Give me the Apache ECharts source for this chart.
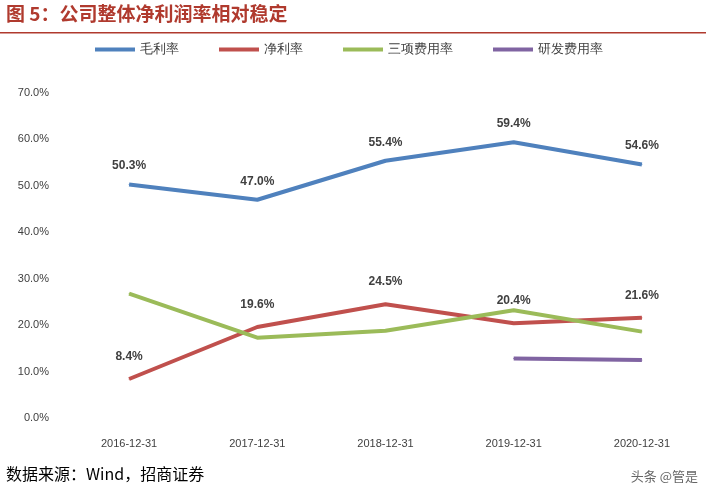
<!DOCTYPE html><html><head><meta charset="utf-8"><script src="https://cdn.jsdelivr.net/npm/echarts@6/dist/echarts.min.js"></script></head><body style="margin:0"><div id="c" style="width:706px;height:494px"></div><script>
const categories=['2016-12-31','2017-12-31','2018-12-31','2019-12-31','2020-12-31'];
const gross=[50.3,47.0,55.4,59.4,54.6];
const net=[8.4,19.6,24.5,20.4,21.6];
const expense=[26.8,17.3,18.8,23.2,18.6];
const rnd=[null,null,null,12.8,12.5];
const c=echarts.init(document.getElementById('c'));
const lbl={show:true,position:'top',distance:12,formatter:p=>p.value.toFixed(1)+'%',fontWeight:'bold',fontSize:12,color:'#404040'};
const base={type:'line',symbol:'circle',symbolSize:1,showSymbol:true};
c.setOption({
graphic:[{type:'text',left:6,top:4,style:{text:'图 5：公司整体净利润率相对稳定',fill:'#b03a2e',font:'bold 19px "Noto Sans CJK SC"'}},
{type:'rect',shape:{x:0,y:32,width:706,height:1.5},style:{fill:'#b03a2e'}},
{type:'text',left:6,top:466,style:{text:'数据来源：Wind，招商证券',fill:'#000',font:'16px "Noto Sans CJK SC"'}},
{type:'text',right:8,top:470,style:{text:'头条 @管是',fill:'#666',font:'13px "Noto Sans CJK SC"'}}],
legend:{top:38,left:90,itemGap:40,itemWidth:40,itemHeight:4,icon:'rect',textStyle:{fontSize:13,color:'#404040'}},
grid:{left:65,right:0,top:93,bottom:76},
xAxis:{type:'category',data:categories,axisTick:{show:false},axisLine:{show:false},axisLabel:{fontSize:11,color:'#404040',margin:20}},
yAxis:{type:'value',min:0,max:70,interval:10,splitLine:{show:false},axisLabel:{formatter:v=>v.toFixed(1)+'%',fontSize:11,color:'#404040',margin:16}},
series:[
Object.assign({},base,{name:'毛利率',data:gross,lineStyle:{width:4,color:'#4f81bd'},itemStyle:{color:'#4f81bd'},label:lbl}),
Object.assign({},base,{name:'净利率',data:net,lineStyle:{width:4,color:'#c0504d'},itemStyle:{color:'#c0504d'},label:Object.assign({},lbl,{distance:16})}),
Object.assign({},base,{name:'三项费用率',data:expense,lineStyle:{width:4,color:'#9bbb59'},itemStyle:{color:'#9bbb59'}}),
Object.assign({},base,{name:'研发费用率',data:rnd,lineStyle:{width:4,color:'#8064a2'},itemStyle:{color:'#8064a2'}})
]});
</script></body></html>
